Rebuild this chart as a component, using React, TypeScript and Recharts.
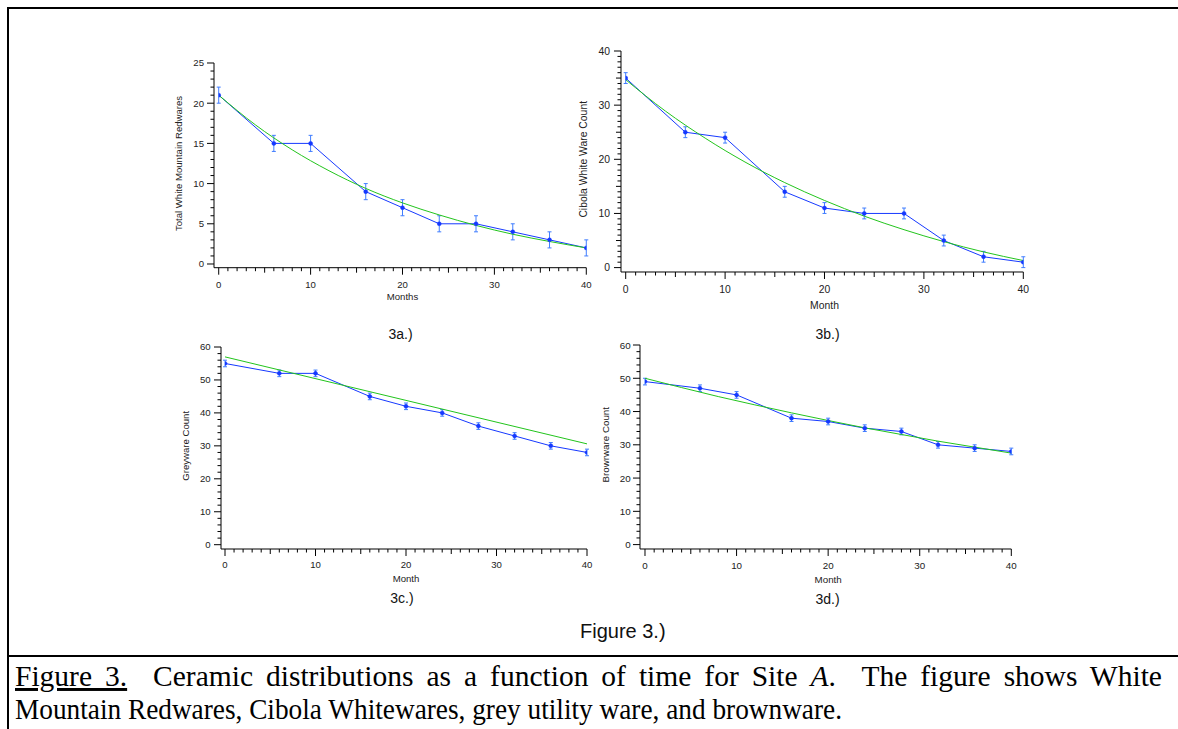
import React from 'react';
import { LineChart, Line, XAxis, YAxis, ErrorBar } from 'recharts';

// ---------- data ----------
const months = [0, 6, 10, 16, 20, 24, 28, 32, 36, 40];
const redwareCounts = [21, 15, 15, 9, 7, 5, 5, 4, 3, 2];
const cibolaCounts = [35, 25, 24, 14, 11, 10, 10, 5, 2, 1];
const greywareCounts = [55, 52, 52, 45, 42, 40, 36, 33, 30, 28];
const brownwareCounts = [49, 47, 45, 38, 37, 35, 34, 30, 29, 28];
const countErrors = [1, 1, 1, 1, 1, 1, 1, 1, 1, 1];

const fitMonths = [0, 4, 8, 12, 16, 20, 24, 28, 32, 36, 40];
const redwareFit = [21.0, 17.3, 14.2, 11.6, 9.4, 7.6, 6.1, 4.8, 3.7, 2.8, 2.0];
const cibolaFit = [34.7, 28.9, 23.9, 19.5, 15.7, 12.4, 9.5, 7.0, 4.8, 2.9, 1.3];
const greywareFitMonths = [0, 40];
const greywareFit = [57.0, 30.6];
const brownwareFit = [50.0, 47.2, 44.5, 42.0, 39.6, 37.3, 35.1, 33.1, 31.1, 29.3, 27.5];

const xMajorTicks = [0, 10, 20, 30, 40];

const BLUE = '#1538ff';
const ERR_BLUE = '#3f7cff';
const GREEN = '#22c41c';
const FONT = '"Liberation Sans", Arial, Helvetica, sans-serif';
const SERIF = '"Liberation Serif", "Times New Roman", serif';

const rows = (xs: number[], ys: number[], es?: number[]) =>
  xs.map((m, i) => ({ month: m, count: ys[i], err: es ? es[i] : 0 }));

type PanelProps = {
  axisX: number; dataLeft: number; dataRight: number;
  dataTop: number; dataBottom: number; axisY: number;
  yMax: number; yMajor: number; yMinor: number;
  xLabel: string; yLabel: string; fs: number;
  xTickDy: number; yTickDx: number; xLabelDy: number; yLabelDx: number;
  points: { month: number; count: number; err: number }[];
  fit: { month: number; count: number }[];
  fitType: 'monotone' | 'linear';
};

function Panel(p: PanelProps) {
  const YW = 60, XH = 45, MT = 10, MR = 15;
  const left = p.axisX - YW;
  const top = p.dataTop - MT;
  const width = p.dataRight + MR - left;
  const height = p.axisY + XH - top;
  const padLeft = p.dataLeft - p.axisX;
  const padBottom = p.axisY - p.dataBottom;

  const xTicks: number[] = [];
  for (let v = 0; v <= 40; v += 1) xTicks.push(v);
  const yTicks: number[] = [];
  for (let v = 0; v <= p.yMax + 1e-9; v += p.yMinor) yTicks.push(Math.round(v * 100) / 100);

  const XTick = (tp: any) => {
    const { x, y, payload } = tp;
    const v = payload.value;
    const major = xMajorTicks.includes(v);
    const mid = !major && v % 5 === 0;
    const len = major ? 7 : mid ? 5 : 3.5;
    return (
      <g>
        <line x1={x} y1={y} x2={x} y2={y + len} stroke="#000" strokeWidth={1} />
        {major && (
          <text x={x} y={y + p.xTickDy} textAnchor="middle" fontSize={p.fs} fontFamily={FONT} fill="#222">
            {v}
          </text>
        )}
      </g>
    );
  };

  const YTick = (tp: any) => {
    const { x, y, payload } = tp;
    const v = payload.value;
    const major = Math.abs(v % p.yMajor) < 1e-6;
    const mid = !major && p.yMinor === 1 && p.yMajor === 10 && v % 5 === 0;
    const len = major ? 7 : mid ? 5 : 3.5;
    return (
      <g>
        <line x1={x - len} y1={y} x2={x} y2={y} stroke="#000" strokeWidth={1} />
        {major && (
          <text x={x - p.yTickDx} y={y + p.fs * 0.36} textAnchor="end" fontSize={p.fs} fontFamily={FONT} fill="#222">
            {v}
          </text>
        )}
      </g>
    );
  };

  const xLabelX = (p.dataLeft + p.dataRight) / 2 - left;
  const xLabelY = p.axisY + p.xLabelDy - top;
  const yLabelX = p.axisX - p.yLabelDx - left;
  const yLabelY = (p.dataTop + p.dataBottom) / 2 - top;

  return (
    <div style={{ position: 'absolute', left, top, width, height }}>
      <LineChart width={width} height={height} margin={{ top: MT, right: MR, bottom: 0, left: 0 }}>
        <XAxis
          dataKey="month"
          type="number"
          domain={[0, 40]}
          ticks={xTicks}
          interval={0}
          allowDataOverflow
          padding={{ left: padLeft, right: 0 }}
          height={XH}
          tickSize={0}
          tickMargin={0}
          tickLine={false}
          axisLine={{ stroke: '#000', strokeWidth: 1 }}
          tick={(tp: any) => <XTick {...tp} />}
          label={{
            content: () => (
              <text x={xLabelX} y={xLabelY} textAnchor="middle" fontSize={p.fs} fontFamily={FONT} fill="#222">
                {p.xLabel}
              </text>
            ),
          }}
        />
        <YAxis
          type="number"
          domain={[0, p.yMax]}
          ticks={yTicks}
          interval={0}
          allowDataOverflow
          padding={{ top: 0, bottom: padBottom }}
          width={YW}
          tickSize={0}
          tickMargin={0}
          tickLine={false}
          axisLine={{ stroke: '#000', strokeWidth: 1 }}
          tick={(tp: any) => <YTick {...tp} />}
          label={{
            content: () => (
              <text
                x={yLabelX}
                y={yLabelY}
                textAnchor="middle"
                fontSize={p.fs}
                fontFamily={FONT}
                fill="#222"
                transform={`rotate(-90 ${yLabelX} ${yLabelY})`}
              >
                {p.yLabel}
              </text>
            ),
          }}
        />
        <Line
          data={p.points}
          dataKey="count"
          type="linear"
          stroke={BLUE}
          strokeWidth={1}
          dot={{ r: 2, fill: BLUE, stroke: BLUE, strokeWidth: 0.5 }}
          isAnimationActive={false}
        >
          <ErrorBar dataKey="err" width={2} stroke={ERR_BLUE} strokeWidth={1} direction="y" isAnimationActive={false} />
        </Line>
        <Line
          data={p.fit}
          dataKey="count"
          type={p.fitType}
          stroke={GREEN}
          strokeWidth={1}
          dot={false}
          isAnimationActive={false}
        />
      </LineChart>
    </div>
  );
}

export default function App() {
  return (
    <div
      style={{
        position: 'absolute',
        left: 0,
        top: 0,
        width: 1178,
        height: 729,
        overflow: 'hidden',
        background: '#fff',
      }}
    >
      <svg width={1178} height={729} style={{ position: 'absolute', left: 0, top: 0 }}>
        <rect x={7} y={7} width={1171} height={2} fill="#000" />
        <rect x={7} y={7} width={2} height={722} fill="#000" />
        <rect x={7} y={655} width={1171} height={2} fill="#000" />
        <text x={400.5} y={339} textAnchor="middle" fontSize={14} fontFamily={FONT} fill="#111">3a.)</text>
        <text x={827.5} y={339} textAnchor="middle" fontSize={14} fontFamily={FONT} fill="#111">3b.)</text>
        <text x={402} y={602.5} textAnchor="middle" fontSize={14} fontFamily={FONT} fill="#111">3c.)</text>
        <text x={827.5} y={604} textAnchor="middle" fontSize={14} fontFamily={FONT} fill="#111">3d.)</text>
        <text x={580} y={638.3} fontSize={20} fontFamily={FONT} fill="#111">Figure 3.)</text>
        <text
          x={15}
          y={686}
          fontSize={29.5}
          fontFamily={SERIF}
          fill="#000"
          style={{ whiteSpace: 'pre', wordSpacing: '5.6px' }}
        >
          <tspan style={{ textDecoration: 'underline' }}>Figure 3.</tspan>
          <tspan>{'  Ceramic distributions as a function of time for Site '}</tspan>
          <tspan fontStyle="italic">A</tspan>
          <tspan>{'.  The figure shows White'}</tspan>
        </text>
        <text
          x={15}
          y={719}
          fontSize={29.5}
          fontFamily={SERIF}
          fill="#000"
          textLength={827}
          lengthAdjust="spacingAndGlyphs"
          style={{ whiteSpace: 'pre' }}
        >
          Mountain Redwares, Cibola Whitewares, grey utility ware, and brownware.
        </text>
      </svg>

      <Panel
        axisX={214} dataLeft={218.7} dataRight={586.3}
        dataTop={63.3} dataBottom={264.3} axisY={268}
        yMax={25} yMajor={5} yMinor={1}
        xLabel="Months" yLabel="Total White Mountain Redwares" fs={9.6}
        xTickDy={20.3} yTickDx={10} xLabelDy={32.7} yLabelDx={31.5}
        points={rows(months, redwareCounts, countErrors)}
        fit={rows(fitMonths, redwareFit)}
        fitType="monotone"
      />
      <Panel
        axisX={621} dataLeft={625.7} dataRight={1023.3}
        dataTop={50.7} dataBottom={267.3} axisY={271.7}
        yMax={40} yMajor={10} yMinor={1}
        xLabel="Month" yLabel="Cibola White Ware Count" fs={10.4}
        xTickDy={21} yTickDx={11} xLabelDy={36.6} yLabelDx={34.3}
        points={rows(months, cibolaCounts, countErrors)}
        fit={rows(fitMonths, cibolaFit)}
        fitType="monotone"
      />
      <Panel
        axisX={221} dataLeft={225} dataRight={587}
        dataTop={347.3} dataBottom={545} axisY={549.3}
        yMax={60} yMajor={10} yMinor={2}
        xLabel="Month" yLabel="Greyware Count" fs={9.6}
        xTickDy={19.4} yTickDx={10.3} xLabelDy={33} yLabelDx={32.4}
        points={rows(months, greywareCounts, countErrors)}
        fit={rows(greywareFitMonths, greywareFit)}
        fitType="linear"
      />
      <Panel
        axisX={640} dataLeft={645} dataRight={1011.3}
        dataTop={344.7} dataBottom={544.3} axisY={548.7}
        yMax={60} yMajor={10} yMinor={2}
        xLabel="Month" yLabel="Browrware Count" fs={9.8}
        xTickDy={19.6} yTickDx={9.3} xLabelDy={33.6} yLabelDx={31}
        points={rows(months, brownwareCounts, countErrors)}
        fit={rows(fitMonths, brownwareFit)}
        fitType="monotone"
      />
    </div>
  );
}
